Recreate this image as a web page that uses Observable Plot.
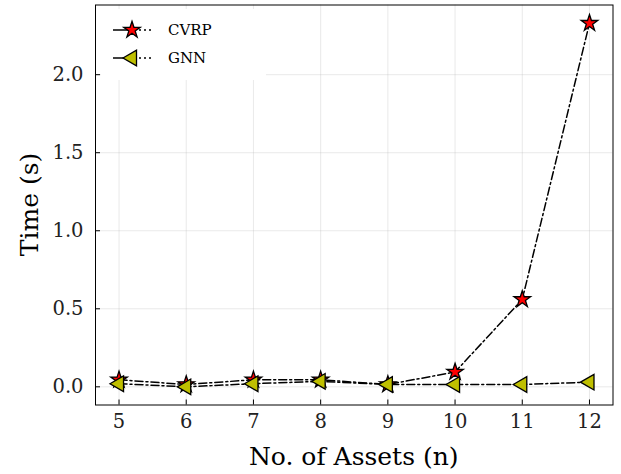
<!DOCTYPE html>
<html>
<head>
<meta charset="utf-8">
<script src="https://cdn.jsdelivr.net/npm/d3@7"></script>
<script src="https://cdn.jsdelivr.net/npm/@observablehq/plot@0.6"></script>
<style>
  html, body { margin: 0; padding: 0; background: #fff; }
  #wrap { position: relative; width: 621px; height: 474px; font-family: "DejaVu Serif", serif; }
  #legend { position: absolute; left: 101px; top: 9px; width: 165px; height: 71px; background: #fff; }
  #legend .row { position: absolute; left: 0; height: 24px; }
  #legend .row span { position: absolute; left: 67px; top: 3px; font-size: 15px; color: #000; white-space: nowrap; }
</style>
</head>
<body>
<div id="wrap"></div>
<script>
const assets = [5, 6, 7, 8, 9, 10, 11, 12];
const cvrpTime = [0.045, 0.015, 0.045, 0.045, 0.015, 0.095, 0.56, 2.33];
const gnnTime = [0.02, 0.0, 0.02, 0.035, 0.015, 0.015, 0.015, 0.03];
const xTicks = [5, 6, 7, 8, 9, 10, 11, 12];
const yTicks = [0.0, 0.5, 1.0, 1.5, 2.0];
const seriesNames = ["CVRP", "GNN"];

const cvrp = assets.map((n, i) => ({n, t: cvrpTime[i], s: "CVRP"}));
const gnn = assets.map((n, i) => ({n, t: gnnTime[i], s: "GNN"}));

const dash = "8,3,2,3";
const olive = "#bfbf00";
const starR = 5.2;
const triR = 5.8;

const plot = Plot.plot({
  width: 621,
  height: 474,
  marginLeft: 95,
  marginRight: 8.5,
  marginTop: 4.5,
  marginBottom: 69.5,
  style: {fontFamily: "DejaVu Serif, serif", background: "#fff"},
  x: {domain: [4.65, 12.35], ticks: xTicks, label: null},
  y: {domain: [-0.1165, 2.4465], ticks: yTicks, label: null},
  marks: [
    Plot.gridX(xTicks, {stroke: "#b0b0b0", strokeOpacity: 0.35, strokeWidth: 0.8}),
    Plot.gridY(yTicks, {stroke: "#b0b0b0", strokeOpacity: 0.35, strokeWidth: 0.8}),
    Plot.line(cvrp, {x: "n", y: "t", stroke: "#000", strokeWidth: 1.5, strokeDasharray: dash}),
    Plot.line(gnn, {x: "n", y: "t", stroke: "#000", strokeWidth: 1.5, strokeDasharray: dash}),
    Plot.dot(cvrp, {x: "n", y: "t", symbol: "star", r: starR, fill: "#ff0000", stroke: "#000", strokeWidth: 1.3}),
    Plot.dot(gnn, {x: "n", y: "t", symbol: "triangle", rotate: -90, r: triR, fill: olive, stroke: "#000", strokeWidth: 1.3}),
    Plot.axisX(xTicks, {tickSize: -5, tickPadding: 14, fontSize: 19.5, fill: "#222", tickFormat: d => String(d), stroke: "#000", label: null}),
    Plot.axisY(yTicks, {tickSize: -5, tickPadding: 17, fontSize: 19.5, fill: "#222", tickFormat: d => d.toFixed(1), stroke: "#000", label: null}),
    Plot.frame({stroke: "#000", strokeWidth: 1})
  ]
});

const wrap = document.getElementById("wrap");
wrap.appendChild(plot);

// axis labels
const svg = d3.select(plot);
svg.append("text")
  .attr("x", (95 + 612.5) / 2).attr("y", 465)
  .attr("text-anchor", "middle")
  .attr("font-family", "DejaVu Serif, serif").attr("font-size", 25).attr("fill", "#000")
  .text("No. of Assets (n)");
svg.append("text")
  .attr("transform", `translate(38, ${(4.5 + 404.5) / 2}) rotate(-90)`)
  .attr("text-anchor", "middle")
  .attr("font-family", "DejaVu Serif, serif").attr("font-size", 25).attr("fill", "#000")
  .text("Time (s)");

// legend
const legend = document.createElement("div");
legend.id = "legend";
const styles = [
  {symbol: d3.symbolStar, fill: "#ff0000", rot: 0, size: Math.PI * starR * starR},
  {symbol: d3.symbolTriangle, fill: olive, rot: -90, size: Math.PI * triR * triR}
];
seriesNames.forEach((name, i) => {
  const row = document.createElement("div");
  row.className = "row";
  row.style.top = (9 + i * 28) + "px";
  const st = styles[i];
  const path = d3.symbol(st.symbol, st.size)();
  row.innerHTML = `<svg width="60" height="24" style="position:absolute;left:10px;top:0">
    <line x1="2" y1="12" x2="20" y2="12" stroke="#000" stroke-width="1.5"/>
    <line x1="28" y1="12" x2="42" y2="12" stroke="#000" stroke-width="1.5" stroke-dasharray="2,3"/>
    <path d="${path}" transform="translate(21,12) rotate(${st.rot})" fill="${st.fill}" stroke="#000" stroke-width="1.3"/>
  </svg><span>${name}</span>`;
  legend.appendChild(row);
});
wrap.appendChild(legend);
</script>
</body>
</html>
